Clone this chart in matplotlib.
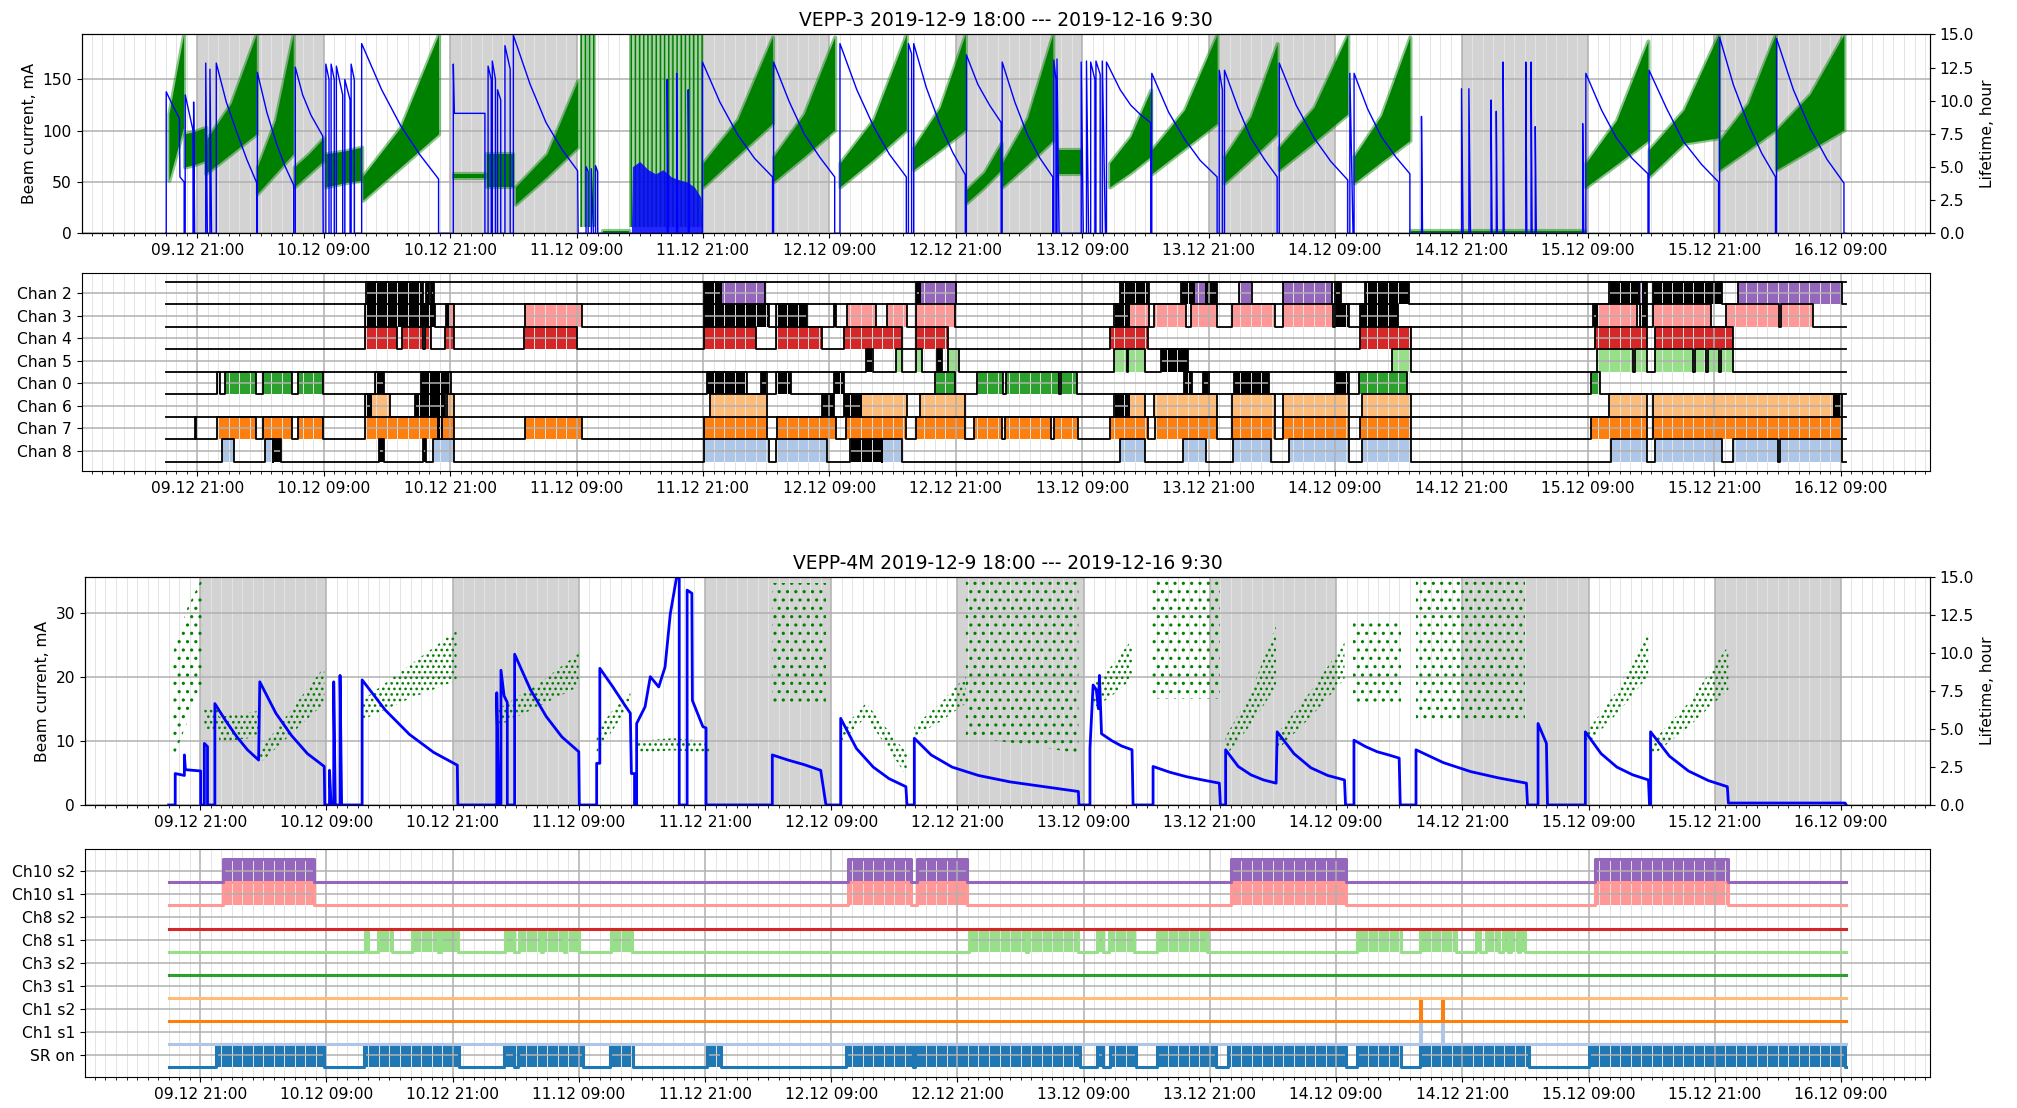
"""
VEPP-3 / VEPP-4M run overview, 2019-12-9 18:00 --- 2019-12-16 9:30

Four panels:
- VEPP-3 beam current + lifetime
- VEPP-3 channel states
- VEPP-4M beam current + lifetime
- VEPP-4M channel states
"""

import datetime as dt
import numpy as np
import matplotlib
matplotlib.use("Agg")
import matplotlib.pyplot as plt
import matplotlib.dates as mdates

plt.rcParams["font.family"] = ["DejaVu Sans"]
plt.rcParams["font.size"] = 11.2
plt.rcParams["hatch.linewidth"] = 1.1

# all times are hours since 2019-12-09 18:00
T0 = dt.datetime(2019, 12, 9, 18, 0)
T_END = 159.5
NIGHTS = [3, 27, 51, 75, 99, 123, 147]   # 21:00 -> 09:00
NIGHT_LEN = 12

# =========================================================
# VEPP-3 beam current (t, mA)
# =========================================================
v3_beam = [
    (0.0, 0), (0.05, 0), (0.05, 138), (0.7, 124), (1.3, 112), (1.35, 55), (1.75, 50), (1.75, 0),
    (1.85, 0), (1.85, 135), (2.6, 100), (2.6, 0), (2.65, 0), (2.65, 128), (2.75, 0),
    (3.8, 0), (3.8, 166), (3.95, 0), (4.2, 0), (4.2, 160), (4.35, 0),
    (4.8, 0), (4.8, 166), (5.75, 128), (6.7, 100), (7.7, 72), (8.65, 49), (8.65, 0),
    (8.7, 0), (8.7, 157), (9.6, 118), (10.5, 88), (11.3, 66), (12.15, 47), (12.15, 0),
    (12.3, 0), (12.3, 162), (13.0, 135), (13.8, 115), (14.9, 95), (14.95, 0),
    (15.2, 0), (15.2, 165), (15.5, 150), (15.5, 0), (15.7, 0), (15.7, 165), (16.0, 150), (16.0, 0),
    (16.2, 0), (16.2, 163), (16.8, 135), (16.8, 0), (17.0, 0), (17.0, 150), (17.5, 130), (17.5, 0),
    (17.6, 0), (17.6, 165), (17.9, 150), (17.9, 0),
    (18.6, 0), (18.6, 185), (20.5, 140), (22.3, 105), (24.1, 77), (25.9, 53), (25.9, 0),
    (27.3, 0), (27.3, 165), (27.4, 117), (30.3, 117), (30.3, 0),
    (30.6, 0), (30.6, 163), (30.9, 150), (30.9, 0), (31.0, 0), (31.0, 168), (31.3, 150), (31.3, 0),
    (31.5, 0), (31.5, 140), (31.8, 130), (31.8, 0), (32.2, 0), (32.2, 183), (32.7, 160), (32.7, 0),
    (33.0, 0), (33.0, 193), (34.6, 145), (36.1, 108), (37.6, 82), (39.1, 61), (39.15, 0),
    (39.9, 0), (39.9, 65), (40.1, 60), (40.1, 0), (40.4, 0), (40.4, 63), (40.6, 0),
    (40.8, 0), (40.8, 66), (41.0, 60), (41.0, 0),
    (47.6, 0), (47.6, 150), (47.7, 0), (48.5, 0), (48.5, 156), (48.6, 0), (49.6, 0), (49.6, 140), (49.7, 0),
    (50.95, 0), (50.95, 167), (52.6, 128), (54.3, 96), (55.9, 73), (57.6, 55), (57.6, 0),
    (57.7, 0), (57.7, 167), (59.2, 128), (60.6, 97), (62.1, 74), (63.5, 55), (63.5, 0),
    (64.0, 0), (64.0, 185), (65.6, 140), (67.2, 104), (68.7, 77), (70.3, 55), (70.3, 0),
    (70.5, 0), (70.5, 185), (70.8, 175), (70.8, 0),
    (71.0, 0), (71.0, 185), (72.2, 142), (73.5, 106), (74.7, 79), (75.9, 57), (75.9, 0),
    (76.0, 0), (76.0, 174), (77.1, 145), (78.2, 125), (79.3, 108), (79.3, 0),
    (79.4, 0), (79.4, 167), (80.6, 128), (81.8, 96), (83.0, 73), (84.2, 55), (84.2, 0),
    (84.3, 0), (84.3, 169), (84.5, 150), (84.5, 0), (84.6, 0), (84.6, 170), (84.8, 0),
    (86.9, 0), (86.9, 167), (87.1, 0), (87.4, 0), (87.4, 168), (87.6, 0),
    (87.8, 0), (87.8, 167), (88.2, 150), (88.2, 0), (88.3, 0), (88.3, 168), (88.7, 155), (88.7, 0),
    (88.9, 0), (88.9, 168), (89.2, 0), (89.3, 0), (89.3, 167), (90.6, 140), (91.6, 125), (92.6, 115),
    (93.5, 108), (93.5, 0),
    (93.6, 0), (93.6, 156), (95.2, 118), (96.7, 92), (98.2, 71), (99.8, 55), (99.8, 0),
    (100.0, 0), (100.0, 159), (100.3, 140), (100.3, 0),
    (100.5, 0), (100.5, 159), (101.8, 122), (103.0, 93), (104.3, 72), (105.5, 55), (105.5, 0),
    (105.7, 0), (105.7, 166), (107.3, 125), (109.0, 93), (110.6, 70), (112.2, 52), (112.2, 0),
    (112.4, 0), (112.4, 156), (112.7, 0),
    (112.8, 0), (112.8, 156), (114.1, 121), (115.4, 94), (116.8, 74), (118.1, 58), (118.1, 0),
    (119.2, 0), (119.2, 114), (119.3, 0),
    (123.0, 0), (123.0, 141), (123.15, 0), (123.7, 0), (123.7, 141), (123.85, 0),
    (125.8, 0), (125.8, 130), (125.9, 0), (126.3, 0), (126.3, 119), (126.4, 0),
    (126.95, 0), (126.95, 167), (127.05, 0), (129.1, 0), (129.1, 167), (129.2, 0),
    (129.6, 0), (129.6, 167), (129.7, 0), (130.0, 0), (130.0, 104), (130.1, 0),
    (134.5, 0), (134.5, 107), (134.6, 0),
    (134.8, 0), (134.8, 156), (136.3, 120), (137.7, 93), (139.2, 73), (140.7, 58), (140.7, 0),
    (140.8, 0), (140.8, 159), (142.5, 121), (144.1, 89), (145.8, 67), (147.4, 50), (147.4, 0),
    (147.5, 0), (147.5, 191), (148.8, 145), (150.2, 107), (151.5, 78), (152.8, 55), (152.8, 0),
    (152.9, 0), (152.9, 190), (154.5, 140), (156.1, 102), (157.7, 72), (159.3, 49), (159.3, 0),
    (159.5, 0),
]

# unstable period on 11.12: the current trace is a dense band
v3_noise_t = [44.2, 44.3, 45.0, 45.8, 46.5, 47.2, 48.0, 48.8, 49.5, 50.2, 50.8, 50.9]
v3_noise_top = [0, 65, 70, 62, 58, 62, 55, 52, 50, 45, 35, 0]

# VEPP-3 lifetime clouds, hours: (start, mid, end) with lower / upper edge
v3_cloud_t = [
    [0.3, 1.0, 1.7], [1.8, 2.8, 3.8], [3.8, 6.2, 8.6], [8.7, 10.4, 12.1], [12.2, 13.6, 15.0],
    [15.2, 16.9, 18.6], [18.7, 22.3, 25.9], [27.4, 28.9, 30.3], [30.5, 31.8, 33.0], [33.2, 36.2, 39.1],
    [39.3, 40.0, 40.8], [41.5, 42.8, 44.0], [44.0, 47.5, 51.0], [51.0, 54.3, 57.6], [57.7, 60.6, 63.5],
    [64.0, 67.2, 70.3], [71.0, 73.5, 75.9], [76.0, 77.7, 79.3], [79.4, 81.8, 84.2], [84.8, 85.8, 86.9],
    [89.6, 91.6, 93.5], [93.6, 96.7, 99.8], [100.5, 103.0, 105.5], [105.7, 109.0, 112.2],
    [112.8, 115.4, 118.1], [118.2, 126.5, 134.7], [134.8, 137.7, 140.7], [140.8, 144.1, 147.4],
    [147.5, 150.2, 152.8], [152.9, 156.1, 159.3],
]
v3_cloud_lo = [
    [4, 6, 8], [5, 5.2, 5.5], [4.5, 6.0, 7.5], [3, 4.5, 6], [3.5, 4.5, 5.5],
    [3.5, 3.8, 4], [2.5, 5, 7.5], [4.2, 4.2, 4.2], [3.5, 3.5, 3.5], [2.2, 4.3, 6.5],
    [0.5, 0.5, 0.5], [0, 0, 0], [0.5, 0.5, 0.5], [3.5, 5.9, 8.3], [3.9, 5.8, 7.8],
    [3.5, 5.6, 7.8], [4.8, 6.3, 7.8], [2.3, 3.5, 4.8], [3.5, 5.2, 7], [4.5, 4.5, 4.5],
    [3.5, 4.6, 5.8], [4.5, 6.4, 8.3], [3.8, 5.6, 7.5], [4.8, 6.9, 9],
    [3.8, 5.4, 7], [0, 0, 0], [3.5, 5.2, 7], [4.3, 6.8, 7.2],
    [4.8, 6.3, 7.8], [4.8, 6.3, 7.8],
]
v3_cloud_hi = [
    [9, 12, 15], [7.5, 7.7, 8], [7, 9.8, 15], [5, 8.5, 15], [5, 6, 7.2],
    [6, 6.2, 6.5], [4.3, 8, 15], [4.5, 4.5, 4.5], [6, 6, 6], [3.5, 6, 11.5],
    [15, 15, 15], [0.15, 0.15, 0.15], [15, 15, 15], [5.3, 8.6, 14.8], [5.8, 9, 14.8],
    [5.3, 8.6, 15], [6.5, 9.5, 15], [3.3, 4.6, 6.8], [5.3, 8.7, 15], [6.3, 6.3, 6.3],
    [5.3, 7.3, 10.8], [6.3, 9.3, 15], [5.8, 8.8, 14.3], [6.5, 9.5, 15],
    [5.8, 8.9, 14.8], [0.15, 0.15, 0.15], [5.3, 8.5, 14.5], [6.3, 9.3, 15],
    [7, 9.8, 15], [7.8, 10.5, 15],
]
v3_cloud_streaky = [11, 13]   # 1-based cloud numbers drawn as thin streaks

# =========================================================
# VEPP-4M beam current (t, mA)
# =========================================================
v4_beam = [
    (0.0, 0), (0.63, 0), (0.63, 4.9), (1.5, 4.6), (1.5, 7.8), (1.6, 5.5), (3.05, 5.3), (3.05, 0),
    (3.4, 0), (3.4, 9.6), (3.7, 9.1), (3.7, 0),
    (4.4, 0), (4.4, 15.8), (5.4, 13.2), (6.5, 10.6), (7.5, 8.6), (8.56, 7.0),
    (8.67, 19.2), (10.2, 14.3), (11.7, 10.8), (13.2, 8.0), (14.8, 6.0), (14.85, 0),
    (15.3, 0), (15.3, 5.4), (15.45, 0), (15.7, 0), (15.7, 19.2), (15.85, 0), (16.3, 0), (16.3, 20.2), (16.45, 0),
    (18.4, 0), (18.4, 19.5), (20.6, 14.8), (22.9, 11.0), (25.2, 8.2), (27.45, 6.2), (27.5, 0),
    (31.2, 0), (31.2, 17.5), (31.4, 0), (31.6, 0), (31.6, 21), (31.9, 17), (32.2, 16), (32.2, 0),
    (32.9, 0), (32.9, 23.5), (34.4, 18), (35.9, 13.8), (37.4, 10.6), (39.0, 8.3), (39.05, 0),
    (40.7, 0), (40.7, 6.5), (41.0, 6.5), (41.0, 21.3), (42.2, 18.5), (43.4, 15.5), (43.9, 14.3),
    (44.0, 4.9), (44.3, 4.9), (44.3, 0),
    (44.5, 0), (44.5, 12.7), (45.3, 15.3), (45.8, 20), (46.6, 18.4), (47.2, 21.5), (47.7, 29.8),
    (48.3, 35.5), (48.55, 35.5), (48.55, 0),
    (49.3, 0), (49.3, 33.5), (49.75, 33), (49.8, 16.3), (50.8, 12.2), (51.1, 12), (51.1, 0),
    (57.4, 0), (57.4, 7.8), (58.9, 7.0), (60.4, 6.3), (62.0, 5.4), (62.5, 0),
    (63.9, 0), (63.9, 13.5), (65.4, 8.8), (67.0, 5.9), (68.5, 4.1), (70.1, 2.85), (70.2, 0),
    (70.9, 0), (70.9, 10.4), (72.5, 7.8), (74.5, 5.9), (77.0, 4.6), (80.0, 3.6), (83.0, 2.9),
    (86.5, 2.1), (86.55, 0),
    (87.6, 0), (87.6, 8.8), (87.9, 18.7), (88.2, 18.0), (88.4, 15), (88.5, 20.2), (88.7, 11.1),
    (89.7, 10), (90.6, 9.2), (91.6, 8.6), (91.7, 0),
    (93.6, 0), (93.6, 6.0), (95.2, 5.1), (96.8, 4.4), (98.3, 3.9), (99.9, 3.4), (100.0, 0),
    (100.5, 0), (100.5, 8.6), (101.7, 6.0), (102.9, 4.7), (104.1, 3.9), (105.3, 3.4),
    (105.4, 11.4), (107.0, 8.0), (108.6, 5.8), (110.2, 4.6), (111.8, 3.9), (111.9, 0),
    (112.7, 0), (112.7, 10.1), (113.8, 9.1), (114.9, 8.3), (116.0, 7.8), (117.0, 7.3), (117.1, 0),
    (118.6, 0), (118.6, 8.6), (121.2, 6.6), (123.8, 5.2), (126.5, 4.2), (129.1, 3.4), (129.2, 0),
    (130.2, 0), (130.2, 12.7), (131.0, 9.6), (131.1, 0),
    (134.7, 0), (134.7, 11.4), (136.2, 8.0), (137.7, 5.9), (139.2, 4.7), (140.7, 3.9), (140.8, 0),
    (140.9, 0), (140.9, 11.4), (142.7, 7.6), (144.5, 5.3), (146.4, 3.8), (148.2, 2.85),
    (148.3, 0.3), (159.4, 0.3), (159.5, 0),
]

# VEPP-4M lifetime point clouds
v4_cloud_t = [
    [0.4, 1.8, 3.2], [3.4, 4.0, 4.8], [4.8, 6.7, 8.6], [8.7, 11.7, 14.8], [18.4, 22.9, 27.4],
    [31.3, 35.2, 39.0], [40.7, 42.3, 43.9], [44.4, 47.9, 51.4], [57.4, 60.0, 62.5], [63.9, 66.3, 70.2],
    [70.9, 73.4, 75.8], [75.8, 81.2, 86.5], [87.8, 89.7, 91.6], [93.5, 96.8, 100.0], [100.5, 102.9, 105.3],
    [105.4, 108.6, 111.8], [112.6, 114.9, 117.2], [118.6, 123.8, 129.0], [134.7, 137.7, 140.7],
    [141.0, 144.6, 148.3],
]
v4_cloud_lo = [
    [3.0, 5.5, 8.0], [5.0, 5.0, 5.0], [4.1, 4.3, 4.5], [2.75, 4.7, 6.7], [5.6, 7.0, 8.2],
    [5.2, 6.5, 7.8], [3.4, 5.0, 6.7], [3.4, 3.6, 3.4], [6.7, 6.7, 6.7], [4.1, 5.8, 1.9],
    [4.5, 5.5, 6.7], [4.5, 4.0, 3.4], [6.3, 7.2, 8.3], [7.0, 7.0, 7.0], [3.2, 5.3, 7.8],
    [3.6, 5.8, 8.3], [6.7, 6.7, 6.7], [5.6, 5.6, 5.6], [3.9, 6.0, 8.5], [3.2, 5.2, 7.6],
]
v4_cloud_hi = [
    [10, 13, 15], [6.3, 6.3, 6.3], [5.8, 6.0, 6.2], [3.6, 6.3, 9.1], [6.9, 9.2, 11.5],
    [6.3, 8.0, 10], [4.9, 6.3, 7.4], [4.2, 4.4, 4.2], [14.6, 14.6, 14.6], [4.9, 6.7, 3.4],
    [5.2, 6.7, 8.5], [15, 15, 14.9], [7.8, 9.2, 10.9], [14.9, 14.9, 14.9], [4.5, 7.4, 11.8],
    [4.7, 7.5, 10.7], [12.2, 12.2, 12.2], [14.9, 14.9, 14.9], [4.7, 7.5, 11.6], [4.1, 6.8, 10.5],
]
v4_cloud_sparse = [1, 9, 12, 14, 17, 18]   # 1-based cloud numbers with loose scatter

# =========================================================
# VEPP-3 channels (bottom row first)
# =========================================================
v3_chan_names = ["Chan 8", "Chan 7", "Chan 6", "Chan 0", "Chan 5", "Chan 4", "Chan 3", "Chan 2"]
v3_chan_colors = ["#aec7e8", "#ff7f0e", "#ffbb78", "#2ca02c", "#98df8a", "#d62728", "#ff9896", "#9467bd"]
v3_chan_on = [
    # Chan 8
    [(5.3, 6.5), (9.4, 10.2), (25.4, 27.4), (51.1, 57.3), (57.9, 62.8), (68.0, 69.9), (90.6, 93.0),
     (96.6, 98.7), (101.3, 104.9), (106.6, 112.3), (113.6, 118.2), (137.2, 140.6), (141.4, 147.7),
     (148.8, 153.0), (153.2, 159.1)],
    # Chan 7
    [(4.9, 8.6), (9.2, 12.0), (12.6, 14.9), (18.9, 25.8), (26.2, 27.4), (34.1, 39.5), (51.1, 57.1),
     (58.0, 63.6), (64.6, 70.3), (71.2, 75.9), (76.7, 79.4), (79.7, 84.0), (84.3, 86.6), (89.6, 93.2),
     (93.9, 99.8), (101.2, 105.3), (106.1, 112.3), (113.4, 118.2), (135.3, 140.6), (141.2, 159.1)],
    # Chan 6
    [(19.5, 21.3), (26.7, 27.4), (51.7, 57.1), (66.0, 70.4), (71.6, 75.9), (91.4, 93.0), (93.8, 99.8),
     (101.2, 105.3), (106.1, 112.3), (113.6, 118.2), (137.0, 140.6), (141.2, 158.4)],
    # Chan 0
    [(5.6, 8.6), (9.2, 12.0), (12.6, 14.9), (73.0, 74.9), (77.0, 79.5), (79.8, 84.8), (85.0, 86.5),
     (113.3, 117.8), (135.3, 136.1)],
    # Chan 5
    [(69.3, 69.9), (71.2, 71.8), (74.3, 75.3), (90.0, 91.2), (91.3, 93.0), (116.4, 118.2),
     (135.9, 139.3), (139.5, 140.6), (141.4, 145.0), (145.2, 146.2), (146.4, 147.4), (147.6, 148.8)],
    # Chan 4
    [(18.9, 22.0), (22.4, 24.4), (24.6, 25.2), (26.5, 27.4), (34.0, 39.0), (51.1, 56.0), (57.9, 62.3),
     (64.4, 69.9), (71.2, 74.3), (89.6, 93.2), (113.4, 118.2), (135.7, 140.6), (141.4, 148.8)],
    # Chan 3
    [(26.8, 27.4), (34.1, 39.5), (64.7, 67.4), (68.5, 70.4), (71.2, 74.9), (91.4, 93.3), (93.8, 96.8),
     (97.3, 99.8), (101.2, 105.3), (106.1, 110.8), (135.9, 139.7), (141.2, 146.7), (148.1, 153.1),
     (153.3, 156.4)],
    # Chan 2
    [(52.7, 56.9), (71.6, 75.0), (97.6, 98.7), (101.9, 103.1), (106.1, 110.7), (139.8, 140.2),
     (149.2, 159.1)],
]
v3_chan_busy = [
    # Chan 8
    [(10.2, 10.9), (20.2, 20.7), (24.4, 24.7), (65.0, 68.0)],
    # Chan 7
    [(2.75, 2.85), (25.8, 26.2)],
    # Chan 6
    [(18.9, 19.5), (23.7, 26.5), (62.3, 63.4), (64.4, 66.0), (90.0, 91.4), (158.4, 159.1)],
    # Chan 0
    [(4.9, 5.2), (19.9, 20.7), (24.2, 27.1), (51.4, 55.2), (56.5, 57.1), (57.9, 59.4), (63.4, 64.4),
     (96.7, 97.4), (98.5, 99.0), (101.4, 104.7), (111.0, 112.3)],
    # Chan 5
    [(66.5, 67.1), (73.2, 73.7), (94.5, 97.0)],
    # Chan 4
    [],
    # Chan 3
    [(18.9, 25.6), (26.6, 26.8), (51.1, 57.3), (57.9, 60.9), (63.4, 63.6), (90.0, 91.4), (111.0, 112.3),
     (113.4, 117.0), (135.5, 135.9), (139.9, 140.6)],
    # Chan 2
    [(19.0, 24.4), (24.7, 25.0), (25.2, 25.5), (51.1, 52.7), (71.2, 71.6), (90.6, 93.3), (96.4, 97.6),
     (98.7, 99.8), (111.0, 111.6), (113.8, 118.0), (137.0, 139.8), (140.2, 140.6), (141.2, 147.7)],
]

# =========================================================
# VEPP-4M channels (bottom row first)
# =========================================================
v4_chan_names = ["SR on", "Ch1 s1", "Ch1 s2", "Ch3 s1", "Ch3 s2", "Ch8 s1", "Ch8 s2", "Ch10 s1", "Ch10 s2"]
v4_chan_colors = ["#1f77b4", "#aec7e8", "#ff7f0e", "#ffbb78", "#2ca02c", "#98df8a", "#d62728",
                  "#ff9896", "#9467bd"]
v4_chan_on = [
    # SR on
    [(4.5, 14.8), (18.6, 27.6), (31.9, 32.8), (33.2, 39.4), (42.0, 44.2), (51.2, 52.5), (64.4, 70.8),
     (71.0, 86.7), (88.3, 88.8), (89.5, 92.0), (94.0, 99.6), (100.7, 111.9), (113.0, 117.2),
     (119.0, 129.3), (135.0, 159.35)],
    # Ch1 s1
    [(119.0, 119.1), (121.1, 121.2)],
    # Ch1 s2
    [(119.0, 119.1), (121.1, 121.2)],
    # Ch3 s1
    [],
    # Ch3 s2
    [],
    # Ch8 s1
    [(18.7, 19.0), (19.9, 21.2), (23.1, 25.6), (25.9, 27.5), (32.0, 32.8), (33.3, 35.4), (35.6, 37.55),
     (37.8, 39.0), (42.1, 44.1), (76.1, 81.5), (81.7, 86.5), (88.3, 88.8), (89.4, 91.8), (94.0, 98.7),
     (113.0, 117.2), (119.0, 122.4), (124.3, 124.7), (125.3, 126.5), (126.9, 127.3), (127.6, 128.3),
     (128.5, 129.0)],
    # Ch8 s2
    [],
    # Ch10 s1
    [(5.2, 13.85), (64.6, 70.6), (71.2, 75.9), (101.0, 111.9), (135.65, 148.3)],
    # Ch10 s2
    [(5.2, 13.85), (64.6, 70.6), (71.2, 75.9), (101.0, 111.9), (135.65, 148.3)],
]


# =========================================================
# helpers
# =========================================================
def hnum(hours):
    return mdates.date2num(T0) + np.asarray(hours, dtype=float) / 24.0


def format_time_axis(ax):
    ax.xaxis.set_major_locator(mdates.HourLocator(byhour=[9, 21]))
    ax.xaxis.set_minor_locator(mdates.HourLocator())
    ax.xaxis.set_major_formatter(mdates.DateFormatter("%d.%m %H:%M"))
    pad = 0.05 * T_END
    ax.set_xlim(hnum(-pad), hnum(T_END + pad))
    ax.grid(True, which="major", color="#b0b0b0", lw=1.1)
    ax.grid(True, which="minor", axis="x", color="#e4e4e4", lw=0.7)


def beam_panel(ax, beam, ymax, blue_lw):
    # lifetime axis only carries the right-hand scale; the marks go on ax
    # (through its transform) so they sit above the grid and below the current
    life = ax.twinx()
    for start in NIGHTS:
        ax.axvspan(hnum(start), hnum(start + NIGHT_LEN), color="lightgray", lw=0, zorder=0.5)
    t, cur = zip(*beam)
    ax.plot(hnum(t), cur, color="b", lw=blue_lw, zorder=3)
    ax.set_ylim(0, ymax)
    life.set_ylim(0, 15)
    ax.set_ylabel("Beam current, mA")
    life.set_ylabel("Lifetime, hour")
    format_time_axis(ax)
    return life


def draw_channels(ax, names, colors, on_lists, busy_lists, edge, lw):
    n = len(names)
    for i, (color, on, busy) in enumerate(zip(colors, on_lists, busy_lists)):
        base, top = i - 0.5, i + 0.5
        for s, e in on:
            ax.fill_between(hnum([s, e]), base, top, color=color, lw=0)
        for s, e in busy:
            ax.fill_between(hnum([s, e]), base, top, color="black", lw=0)
        xs, ys = [0.0], [base]
        for s, e in sorted(on + busy):
            xs += [s, s, e, e]
            ys += [base, top, top, base]
        xs.append(T_END)
        ys.append(base)
        ax.plot(hnum(xs), ys, color=edge if edge else color, lw=lw)
    ax.set_yticks(range(n))
    ax.set_yticklabels(names)
    ax.set_ylim(-0.5 - 0.05 * n, n - 0.5 + 0.05 * n)
    format_time_axis(ax)


# =========================================================
# figure
# =========================================================
fig = plt.figure(figsize=(20.17, 11.08), dpi=100)

ax1 = fig.add_axes([0.0405, 0.7894, 0.9164, 0.1796])
ax2 = fig.add_axes([0.0405, 0.5749, 0.9164, 0.1790])
ax3 = fig.add_axes([0.0420, 0.2735, 0.9149, 0.2055])
ax4 = fig.add_axes([0.0420, 0.0277, 0.9149, 0.2061])

# --- VEPP-3 current / lifetime
life1 = beam_panel(ax1, v3_beam, 194, 1.0)
ax1.fill_between(hnum(v3_noise_t), 0, v3_noise_top, color="b", lw=0, alpha=0.85, zorder=2.5)
for k, (t, lo, hi) in enumerate(zip(v3_cloud_t, v3_cloud_lo, v3_cloud_hi), start=1):
    if k in v3_cloud_streaky:
        ax1.fill_between(hnum(t), lo, hi, facecolor=(0, 0.5, 0, 0.35), edgecolor="g",
                         hatch="||||", lw=0, zorder=2, transform=life1.transData)
    else:
        ax1.fill_between(hnum(t), lo, hi, facecolor="g", edgecolor=(0, 0.5, 0, 0.45),
                         lw=3, zorder=2, transform=life1.transData)
ax1.set_title("VEPP-3 2019-12-9 18:00 --- 2019-12-16 9:30")

# --- VEPP-3 channels
draw_channels(ax2, v3_chan_names, v3_chan_colors, v3_chan_on, v3_chan_busy, "black", 1.3)
ax2.plot(hnum([0.0, T_END]), [len(v3_chan_names) - 0.5] * 2, color="black", lw=1.3)

# --- VEPP-4M current / lifetime
life3 = beam_panel(ax3, v4_beam, 35.5, 2.0)
for k, (t, lo, hi) in enumerate(zip(v4_cloud_t, v4_cloud_lo, v4_cloud_hi), start=1):
    ax3.fill_between(hnum(t), lo, hi, facecolor="none", edgecolor="g",
                     hatch=".." if k in v4_cloud_sparse else "...",
                     lw=0, zorder=2, transform=life3.transData)
ax3.set_title("VEPP-4M 2019-12-9 18:00 --- 2019-12-16 9:30")

# --- VEPP-4M channels
draw_channels(ax4, v4_chan_names, v4_chan_colors, v4_chan_on, [[] for _ in v4_chan_names], None, 2.2)

fig.savefig("out.png", dpi=100)
plt.close(fig)
